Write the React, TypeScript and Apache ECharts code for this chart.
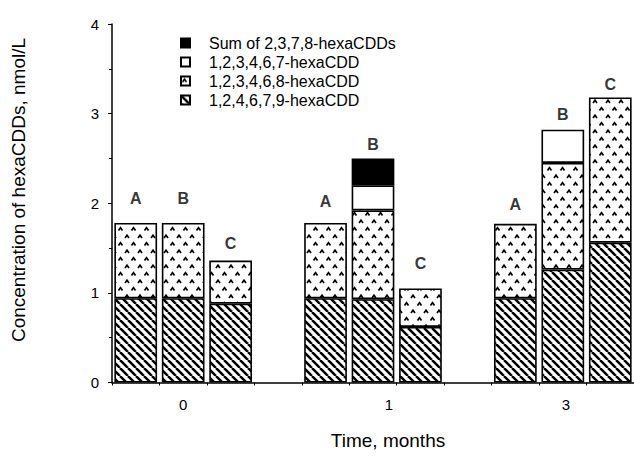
import React, { useEffect, useRef } from 'react';
import * as echarts from 'echarts';

const categories = ['A0', 'B0', 'C0', 'gap0', 'A1', 'B1', 'C1', 'gap1', 'A3', 'B3', 'C3'];
const tickLabels = ['', '0', '', '', '', '1', '', '', '', '3', ''];
const hexa124679 = [0.94, 0.94, 0.88, '-', 0.94, 0.93, 0.62, '-', 0.94, 1.26, 1.56];
const hexa123468 = [0.84, 0.84, 0.48, '-', 0.84, 0.99, 0.43, '-', 0.83, 1.19, 1.62];
const hexa123467 = ['-', '-', '-', '-', '-', 0.28, '-', '-', '-', 0.37, '-'];
const sum2378 = ['-', '-', '-', '-', '-', 0.3, '-', '-', '-', '-', '-'];
const letterNames = ['A', 'B', 'C', 'A', 'B', 'C', 'A', 'B', 'C'];
const letterCats = [0, 1, 2, 4, 5, 6, 8, 9, 10];
const letterY = [2.05, 2.05, 1.55, 2.02, 2.66, 1.33, 1.99, 2.99, 3.32];
const seriesNames = [
  'Sum of 2,3,7,8-hexaCDDs',
  '1,2,3,4,6,7-hexaCDD',
  '1,2,3,4,6,8-hexaCDD',
  '1,2,4,6,7,9-hexaCDD',
];

const FONT = '"Liberation Sans", Arial, Helvetica, sans-serif';

function hatchCanvas() {
  const p = 8;
  const c = document.createElement('canvas');
  c.width = p;
  c.height = p;
  const ctx = c.getContext('2d')!;
  ctx.fillStyle = '#fff';
  ctx.fillRect(0, 0, p, p);
  ctx.strokeStyle = '#000';
  ctx.lineWidth = 2.5;
  for (const k of [-p, 0, p]) {
    ctx.beginPath();
    ctx.moveTo(k, 0);
    ctx.lineTo(k + p, p);
    ctx.stroke();
  }
  return c;
}

function dotCanvas() {
  const w = 13;
  const h = 15;
  const c = document.createElement('canvas');
  c.width = w;
  c.height = h;
  const ctx = c.getContext('2d')!;
  ctx.fillStyle = '#fff';
  ctx.fillRect(0, 0, w, h);
  ctx.strokeStyle = '#000';
  ctx.lineWidth = 1.7;
  const caret = (x: number, y: number) => {
    ctx.beginPath();
    ctx.moveTo(x - 2, y + 1.5);
    ctx.lineTo(x, y - 1.2);
    ctx.lineTo(x + 2, y + 1.5);
    ctx.stroke();
  };
  caret(3.5, 4);
  caret(10, 11.5);
  return c;
}

export default function App() {
  const ref = useRef<HTMLDivElement>(null);
  useEffect(() => {
    if (!ref.current) return;
    const chart = echarts.init(ref.current, null, { renderer: 'svg' });
    const hatch = { image: hatchCanvas(), repeat: 'repeat' };
    const dots = { image: dotCanvas(), repeat: 'repeat' };
    const border = { borderColor: '#000', borderWidth: 1.6 };
    const barCommon = {
      type: 'bar',
      stack: 'total',
      barWidth: '90%',
      silent: true,
    };
    chart.setOption({
      animation: false,
      backgroundColor: '#fff',
      textStyle: { fontFamily: FONT, color: '#000' },
      grid: { left: 112, top: 24, width: 531, height: 358.5 },
      legend: {
        orient: 'vertical',
        left: 175,
        top: 30,
        itemWidth: 9,
        itemHeight: 9,
        itemGap: 3,
        icon: 'rect',
        selectedMode: false,
        data: seriesNames,
        textStyle: { fontFamily: FONT, fontSize: 16, color: '#000', padding: [0, 0, 0, 14] },
      },
      xAxis: {
        type: 'category',
        data: categories,
        axisLine: { show: true, lineStyle: { color: '#000', width: 1.5 } },
        axisTick: { show: true, interval: 0, length: 3, lineStyle: { color: '#000' } },
        axisLabel: {
          interval: 0,
          margin: 14,
          fontSize: 15,
          fontFamily: FONT,
          color: '#000',
          formatter: (_v: string, i: number) =>
            tickLabels[i] === '1'
              ? '{s|1}'
              : tickLabels[i] === '3'
              ? '{t|3}'
              : tickLabels[i],
          rich: {
            s: { fontSize: 15, fontFamily: FONT, color: '#000', padding: [0, 0, 0, 32] },
            t: { fontSize: 15, fontFamily: FONT, color: '#000', padding: [0, 0, 0, 6] },
          },
        },
        splitLine: { show: false },
      },
      yAxis: {
        type: 'value',
        min: 0,
        max: 4,
        interval: 1,
        axisLine: { show: true, lineStyle: { color: '#000', width: 1.5 } },
        axisTick: { show: true, length: 4, lineStyle: { color: '#000' } },
        minorTick: { show: true, splitNumber: 2, length: 3, lineStyle: { color: '#000' } },
        axisLabel: { margin: 13, fontSize: 15, fontFamily: FONT, color: '#000' },
        splitLine: { show: false },
        minorSplitLine: { show: false },
      },
      graphic: [
        {
          type: 'text',
          x: 18,
          y: 190,
          rotation: Math.PI / 2,
          style: {
            text: 'Concentration of hexaCDDs, nmol/L',
            font: `19px ${FONT}`,
            fill: '#000',
            align: 'center',
            verticalAlign: 'middle',
          },
        },
        {
          type: 'text',
          x: 388,
          y: 440,
          style: {
            text: 'Time, months',
            font: `19px ${FONT}`,
            fill: '#000',
            align: 'center',
            verticalAlign: 'middle',
          },
        },
      ],
      series: [
        { ...barCommon, name: seriesNames[3], data: hexa124679, itemStyle: { color: hatch, ...border } },
        { ...barCommon, name: seriesNames[2], data: hexa123468, itemStyle: { color: dots, ...border } },
        { ...barCommon, name: seriesNames[1], data: hexa123467, itemStyle: { color: '#fff', ...border } },
        { ...barCommon, name: seriesNames[0], data: sum2378, itemStyle: { color: '#000', ...border } },
        {
          type: 'scatter',
          name: 'letters',
          silent: true,
          symbolSize: 1,
          itemStyle: { color: 'rgba(0,0,0,0)' },
          data: letterCats.map((c, i) => [c, letterY[i]]),
          label: {
            show: true,
            position: 'inside',
            formatter: (p: any) => letterNames[p.dataIndex],
            fontFamily: FONT,
            fontWeight: 'bold',
            fontSize: 16,
            color: '#000',
          },
        },
      ],
    });
    return () => chart.dispose();
  }, []);
  return (
    <div
      ref={ref}
      style={{ position: 'absolute', left: 0, top: 0, width: 634, height: 457 }}
    />
  );
}
